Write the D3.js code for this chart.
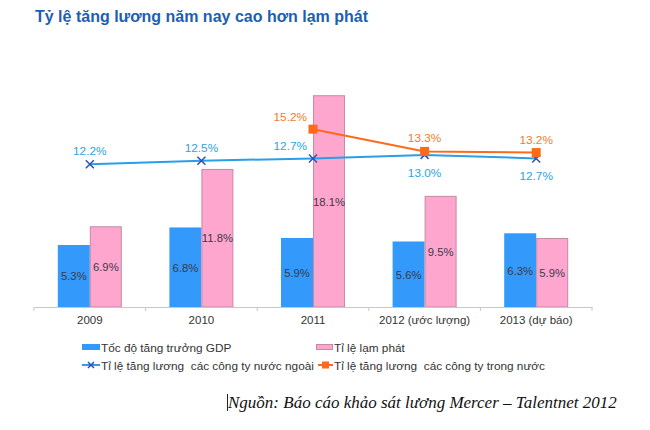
<!DOCTYPE html>
<html><head><meta charset="utf-8">
<script src="https://cdn.jsdelivr.net/npm/d3@7"></script>
<style>body{margin:0;background:#fff}svg{display:block}text{white-space:pre}</style>
</head><body>
<script>
const categories = ["2009","2010","2011","2012 (ước lượng)","2013 (dự báo)"];
const gdpGrowth = [5.3, 6.8, 5.9, 5.6, 6.3];
const inflation = [6.9, 11.8, 18.1, 9.5, 5.9];
const foreignSalary = [12.2, 12.5, 12.7, 13.0, 12.7];
const domesticSalary = [null, null, 15.2, 13.3, 13.2];
const foreignLabelPos = ["above","above","aboveLeft","below","below"];
const domesticLabelPos = [null,null,"aboveLeft","above","above"];
const seriesNames = ["Tốc độ tăng trưởng GDP","Tỉ lệ lạm phát","Tỉ lệ tăng lương  các công ty nước ngoài","Tỉ lệ tăng lương  các công ty trong nước"];

const W=650,H=430;
const svg=d3.select("body").append("svg").attr("width",W).attr("height",H);
const font="Liberation Sans, Arial, sans-serif";

svg.append("text").attr("x",35).attr("y",22).attr("font-family",font).attr("font-size",16)
  .attr("font-weight","bold").attr("fill","#1d5fae").text("Tỷ lệ tăng lương năm nay cao hơn lạm phát");

const x=d3.scaleBand().domain(categories).range([34,592]).paddingInner(0).paddingOuter(0);
const y=d3.scaleLinear().domain([0,20]).range([307,73]);
const barW=32;
const cx=c=>x(c)+x.bandwidth()/2;

const blue="#3399fa", pink="#ffa6cf", pinkStroke="#c48aa6";
svg.selectAll(".gdp").data(categories).join("rect")
  .attr("x",c=>cx(c)-barW).attr("width",barW)
  .attr("y",(c,i)=>y(gdpGrowth[i])).attr("height",(c,i)=>y(0)-y(gdpGrowth[i]))
  .attr("fill",blue);
svg.selectAll(".inf").data(categories).join("rect")
  .attr("x",c=>cx(c)+0.5).attr("width",barW-1)
  .attr("y",(c,i)=>y(inflation[i])+0.5).attr("height",(c,i)=>y(0)-y(inflation[i])-0.5)
  .attr("fill",pink).attr("stroke",pinkStroke).attr("stroke-width",1);

const labCol="#3a3a4a";
svg.selectAll(".gl").data(categories).join("text")
  .attr("x",c=>cx(c)-barW/2).attr("y",(c,i)=>(y(gdpGrowth[i])+y(0))/2+4.5)
  .attr("text-anchor","middle").attr("font-family",font).attr("font-size",11.3).attr("fill",labCol)
  .text((c,i)=>gdpGrowth[i].toFixed(1)+"%");
svg.selectAll(".il").data(categories).join("text")
  .attr("x",c=>cx(c)+barW/2).attr("y",(c,i)=>(y(inflation[i])+y(0))/2+4.5)
  .attr("text-anchor","middle").attr("font-family",font).attr("font-size",11.3).attr("fill",labCol)
  .text((c,i)=>inflation[i].toFixed(1)+"%");

const axis=d3.axisBottom(x).tickSize(0).tickPadding(9);
const ag=svg.append("g").attr("transform","translate(0,307)").call(axis);
ag.select(".domain").attr("stroke","#c8c8c8");
ag.selectAll("text").attr("font-family",font).attr("font-size",11.5).attr("fill","#333");
const bounds=categories.map(c=>x(c)).concat([x.range()[1]]);
svg.selectAll(".tk").data(bounds).join("line")
  .attr("x1",d=>d).attr("x2",d=>d).attr("y1",307).attr("y2",311).attr("stroke","#c8c8c8");

const lineBlue="#2a9ee6", xMark="#2e4fb8", orange="#ff6a1a";
const fIdx=foreignSalary.map((v,i)=>i);
const lg=d3.line().x(i=>cx(categories[i])).y(i=>y(foreignSalary[i]));
svg.append("path").attr("d",lg(fIdx)).attr("fill","none").attr("stroke",lineBlue).attr("stroke-width",2);
const dIdx=domesticSalary.map((v,i)=>i).filter(i=>domesticSalary[i]!=null);
const ld=d3.line().x(i=>cx(categories[i])).y(i=>y(domesticSalary[i]));
svg.append("path").attr("d",ld(dIdx)).attr("fill","none").attr("stroke",orange).attr("stroke-width",2);

function xMarker(g,px,py,s){
  g.append("path").attr("d",`M${px-s},${py-s}L${px+s},${py+s}M${px-s},${py+s}L${px+s},${py-s}`)
   .attr("stroke",xMark).attr("stroke-width",1.5).attr("fill","none");
}
fIdx.forEach(i=>xMarker(svg,cx(categories[i]),y(foreignSalary[i]),4));
svg.selectAll(".sq").data(dIdx).join("rect")
  .attr("x",i=>cx(categories[i])-4.5).attr("y",i=>y(domesticSalary[i])-4.5)
  .attr("width",9).attr("height",9).attr("fill",orange);

const blueLab="#2ea3e0", orangeLab="#f57a30";
function placeLabel(i,v,pos,col){
  let px=cx(categories[i]), py=y(v), anchor="middle";
  if(pos==="above"){py-=9;}
  else if(pos==="below"){py+=22;}
  else if(pos==="aboveLeft"){px-=6;py-=8;anchor="end";}
  svg.append("text").attr("x",px).attr("y",py).attr("text-anchor",anchor)
    .attr("font-family",font).attr("font-size",11.8).attr("fill",col).text(v.toFixed(1)+"%");
}
fIdx.forEach(i=>placeLabel(i,foreignSalary[i],foreignLabelPos[i],blueLab));
dIdx.forEach(i=>placeLabel(i,domesticSalary[i],domesticLabelPos[i],orangeLab));

const lf=11.8;
const leg=svg.append("g").attr("font-family",font).attr("font-size",lf).attr("fill","#333");
leg.append("rect").attr("x",82).attr("y",344).attr("width",18).attr("height",6).attr("fill",blue);
leg.append("text").attr("x",101).attr("y",351.5).text(seriesNames[0]);
leg.append("rect").attr("x",316.5).attr("y",344.5).attr("width",16).attr("height",5).attr("fill",pink).attr("stroke",pinkStroke);
leg.append("text").attr("x",334).attr("y",351.5).text(seriesNames[1]);
leg.append("line").attr("x1",82).attr("x2",100).attr("y1",365).attr("y2",365).attr("stroke",lineBlue).attr("stroke-width",2);
xMarker(leg,91,365,3);
leg.append("text").attr("x",101).attr("y",369.5).text(seriesNames[2]);
leg.append("line").attr("x1",318).attr("x2",333).attr("y1",365).attr("y2",365).attr("stroke",orange).attr("stroke-width",2);
leg.append("rect").attr("x",322).attr("y",361.5).attr("width",7).attr("height",7).attr("fill",orange);
leg.append("text").attr("x",334).attr("y",369.5).text(seriesNames[3]);

svg.append("line").attr("x1",227.5).attr("x2",227.5).attr("y1",394).attr("y2",411).attr("stroke","#222").attr("stroke-width",1);
svg.append("text").attr("x",228).attr("y",408).attr("font-family","Liberation Serif, Times New Roman, serif")
  .attr("font-style","italic").attr("font-size",17).attr("fill","#111")
  .text("Nguồn: Báo cáo khảo sát lương Mercer – Talentnet 2012");
</script>
</body></html>
